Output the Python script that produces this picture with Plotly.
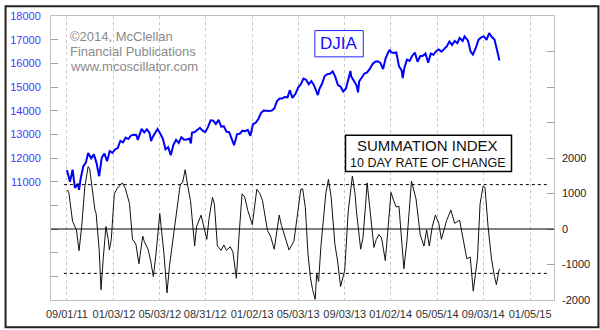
import plotly.graph_objects as go

# ---------------- data ----------------
djia_dates = [
    "2011-09-01","2011-09-09","2011-09-16","2011-09-22","2011-09-30","2011-10-03","2011-10-07","2011-10-14",
    "2011-10-21","2011-10-27","2011-11-04","2011-11-11","2011-11-18","2011-11-25","2011-12-02","2011-12-09",
    "2011-12-16","2011-12-23","2011-12-30","2012-01-06","2012-01-13","2012-01-20","2012-01-27","2012-02-03",
    "2012-02-10","2012-02-17","2012-02-24","2012-03-02","2012-03-06","2012-03-09","2012-03-16","2012-03-23",
    "2012-03-30","2012-04-06","2012-04-10","2012-04-13","2012-04-20","2012-04-27","2012-05-04","2012-05-11",
    "2012-05-18","2012-05-25","2012-06-01","2012-06-08","2012-06-15","2012-06-22","2012-06-29","2012-07-06",
    "2012-07-13","2012-07-20","2012-07-24","2012-07-27","2012-08-03","2012-08-10","2012-08-17","2012-08-24",
    "2012-08-31","2012-09-07","2012-09-14","2012-09-21","2012-09-28","2012-10-05","2012-10-12","2012-10-19",
    "2012-10-26","2012-11-02","2012-11-09","2012-11-15","2012-11-23","2012-11-30","2012-12-07","2012-12-14",
    "2012-12-21","2012-12-28","2013-01-04","2013-01-11","2013-01-18","2013-01-25","2013-02-01","2013-02-08",
    "2013-02-15","2013-02-22","2013-03-01","2013-03-08","2013-03-15","2013-03-22","2013-03-28","2013-04-05",
    "2013-04-11","2013-04-18","2013-04-26","2013-05-03","2013-05-10","2013-05-17","2013-05-24","2013-05-31",
    "2013-06-07","2013-06-14","2013-06-21","2013-06-24","2013-06-28","2013-07-05","2013-07-12","2013-07-19",
    "2013-07-26","2013-08-02","2013-08-09","2013-08-16","2013-08-23","2013-08-30","2013-09-06","2013-09-13",
    "2013-09-18","2013-09-20","2013-09-27","2013-10-04","2013-10-08","2013-10-11","2013-10-18","2013-10-25",
    "2013-11-01","2013-11-08","2013-11-15","2013-11-22","2013-11-29","2013-12-06","2013-12-13","2013-12-20",
    "2013-12-27","2013-12-31","2014-01-03","2014-01-10","2014-01-17","2014-01-24","2014-01-31","2014-02-03",
    "2014-02-07","2014-02-14","2014-02-21","2014-02-28","2014-03-07","2014-03-14","2014-03-21","2014-03-28",
    "2014-04-04","2014-04-11","2014-04-18","2014-04-25","2014-05-02","2014-05-09","2014-05-16","2014-05-23",
    "2014-05-30","2014-06-06","2014-06-13","2014-06-20","2014-06-27","2014-07-03","2014-07-11","2014-07-16",
    "2014-07-18","2014-07-25","2014-08-01","2014-08-07","2014-08-15","2014-08-22","2014-08-29","2014-09-05",
    "2014-09-12","2014-09-19","2014-09-26","2014-10-03","2014-10-10","2014-10-13","2014-10-16",
]
djia_values = [
    11494,10992,11509,10733,10913,10655,11103,11644,
    11809,12209,11983,12153,11796,11231,12019,12184,
    11867,12294,12218,12360,12422,12720,12660,12862,
    12801,12950,12983,12977,12759,12922,13233,13081,
    13212,13060,12716,12850,13029,13228,13038,12821,
    12369,12455,12119,12554,12767,12640,12880,12772,
    12777,12822,12617,13075,13096,13207,13275,13158,
    13090,13306,13593,13579,13437,13610,13328,13343,
    13107,13093,12815,12542,13010,13025,13155,13135,
    13190,12938,13435,13488,13650,13896,14010,13993,
    13982,14001,14090,14397,14515,14512,14579,14565,
    14865,14537,14712,14974,15118,15354,15303,15116,
    15248,15070,14800,14660,14910,15136,15464,15544,
    15559,15658,15426,15081,15010,14810,14923,15376,
    15676,15452,15258,15073,14776,15237,15400,15570,
    15615,15762,15962,16065,16086,16020,15755,16221,
    16479,16577,16470,16437,16458,15879,15699,15373,
    15794,16154,16104,16322,16453,16066,16303,16323,
    16413,16027,16409,16361,16513,16584,16492,16607,
    16717,16924,16776,16948,16852,17068,16944,17138,
    17100,16961,16493,16368,16663,17001,17098,17138,
    16988,17280,17113,17009,16544,16321,16117,
]

osc_dates = [
    "2011-09-02","2011-09-06","2011-09-13","2011-09-16","2011-09-26","2011-10-03","2011-10-10","2011-10-18",
    "2011-10-27","2011-10-31","2011-11-14","2011-11-17","2011-11-25","2011-11-30","2011-12-06","2011-12-13",
    "2011-12-19","2011-12-22","2011-12-27","2012-01-04","2012-01-12","2012-01-25","2012-02-02","2012-02-13",
    "2012-02-21","2012-03-01","2012-03-09","2012-03-19","2012-03-23","2012-04-02","2012-04-09","2012-04-16",
    "2012-04-23","2012-05-03","2012-05-14","2012-05-22","2012-05-29","2012-06-13","2012-06-26","2012-07-02",
    "2012-07-09","2012-07-16","2012-07-23","2012-08-03","2012-08-08","2012-08-20","2012-08-27","2012-09-04",
    "2012-09-10","2012-09-19","2012-09-24","2012-10-02","2012-10-12","2012-10-19","2012-10-26","2012-11-05",
    "2012-11-12","2012-11-21","2012-11-28","2012-12-06","2012-12-13","2012-12-21","2013-01-02","2013-01-14",
    "2013-01-22","2013-01-29","2013-02-11","2013-02-19","2013-03-01","2013-03-14","2013-03-20","2013-03-28",
    "2013-04-09","2013-04-22","2013-04-29","2013-05-10","2013-05-15","2013-05-22","2013-05-29","2013-06-04",
    "2013-06-10","2013-06-17","2013-06-21","2013-06-26","2013-07-02","2013-07-09","2013-07-15","2013-07-22",
    "2013-07-29","2013-08-08","2013-08-15","2013-08-23","2013-09-03","2013-09-12","2013-09-23","2013-09-30",
    "2013-10-04","2013-10-15","2013-10-21","2013-10-28","2013-11-01","2013-11-07","2013-11-12","2013-11-19",
    "2013-11-25","2013-12-02","2013-12-09","2013-12-19","2013-12-26","2014-01-03","2014-01-10","2014-01-17",
    "2014-01-24","2014-01-31","2014-02-06","2014-02-14","2014-02-26","2014-03-10","2014-03-21","2014-03-31",
    "2014-04-07","2014-04-14","2014-04-22","2014-04-30","2014-05-09","2014-05-16","2014-05-30","2014-06-10",
    "2014-06-20","2014-07-03","2014-07-11","2014-07-22","2014-07-31","2014-08-08","2014-08-19","2014-08-26",
    "2014-09-03","2014-09-08","2014-09-16","2014-09-25","2014-10-03","2014-10-08","2014-10-15","2014-10-17",
]
osc_values = [
    1100,1030,450,210,-20,-610,70,1170,
    1760,1700,530,440,-570,-1710,-800,70,
    -290,-590,-300,990,1150,1300,1150,720,
    -290,-430,-980,-200,-350,-570,-900,-1340,
    -700,440,-700,-1800,-1000,250,1260,1300,
    1670,1200,800,-480,70,390,100,-290,
    300,890,700,-480,-600,-450,-600,-500,
    -650,-1390,-200,990,900,530,120,1120,
    1000,800,-40,-200,-570,390,100,-200,
    -590,-340,200,1120,1130,600,-700,-1340,
    -1700,-1980,-1250,-1480,-500,300,1000,1400,
    900,-430,-900,-1620,-1160,480,1490,1000,
    480,-570,-250,700,1300,700,120,-520,
    -300,-160,-250,-890,0,1030,800,620,
    640,-300,-1120,-340,1350,850,-160,-480,
    -20,-480,70,390,160,-290,250,530,
    160,250,-200,-840,-790,-1750,-840,710,
    1210,1170,70,-840,-1340,-1570,-1160,-1120,
]

band_levels = [1250, -1250]
x_tick_dates = ["2011-09-01","2012-01-03","2012-05-03","2012-08-31","2013-01-02","2013-05-03",
                "2013-09-03","2014-01-02","2014-05-05","2014-09-03","2015-01-05"]
x_tick_labels = ["09/01/11","01/03/12","05/03/12","08/31/12","01/02/13","05/03/13",
                 "09/03/13","01/02/14","05/05/14","09/03/14","01/05/15"]
left_ticks = list(range(6000, 18001, 1000))
left_labels = [str(v) if v >= 11000 else "" for v in left_ticks]
right_ticks = list(range(-2000, 6001, 1000))
right_labels = [str(v) if v <= 2000 else "" for v in right_ticks]

# ---------------- layout constants ----------------
W, H = 600, 330
ML, MR, MT, MB = 46, 45, 10, 28
PW, PH = W - ML - MR, H - MT - MB
FONT = "Arial, Liberation Sans, sans-serif"

def px(x):
    return (x - ML) / PW

def py(y):
    return (H - MB - y) / PH

fig = go.Figure()
fig.add_trace(go.Scatter(x=djia_dates, y=djia_values, mode="lines",
                         line=dict(color="#0000ff", width=2), yaxis="y", name="DJIA"))
fig.add_trace(go.Scatter(x=osc_dates, y=osc_values, mode="lines",
                         line=dict(color="#111111", width=1), yaxis="y2", name="Summation ROC"))

shapes = []
# zero line
shapes.append(dict(type="line", xref="paper", yref="y2", x0=0, x1=1, y0=0, y1=0,
                   line=dict(color="#000000", width=1)))
for lv in band_levels:
    shapes.append(dict(type="line", xref="paper", yref="y2", x0=px(59), x1=px(549), y0=lv, y1=lv,
                       line=dict(color="#000000", width=1, dash="3px,3px")))
# DJIA box
shapes.append(dict(type="rect", xref="paper", yref="paper", x0=px(313), x1=px(362), y0=py(52), y1=py(25),
                   line=dict(color="#2020ff", width=1), fillcolor="rgba(255,255,255,0)"))
# Summation box
shapes.append(dict(type="rect", xref="paper", yref="paper", x0=px(344), x1=px(512), y0=py(170), y1=py(132.5),
                   line=dict(color="#000000", width=1.5), fillcolor="#ffffff"))
# outer frame
shapes.append(dict(type="rect", xref="paper", yref="paper", x0=px(0), x1=px(W), y0=py(H), y1=py(0),
                   line=dict(color="#222222", width=2), fillcolor="rgba(0,0,0,0)"))

annotations = [
    dict(xref="paper", yref="paper", x=px(63), y=py(31), text="©2014, McClellan", showarrow=False,
         xanchor="left", yanchor="middle", font=dict(family=FONT, size=13, color="#8a8a8a")),
    dict(xref="paper", yref="paper", x=px(63), y=py(46), text="Financial Publications", showarrow=False,
         xanchor="left", yanchor="middle", font=dict(family=FONT, size=13, color="#8a8a8a")),
    dict(xref="paper", yref="paper", x=px(63), y=py(61.5), text="www.mcoscillator.com", showarrow=False,
         xanchor="left", yanchor="middle", font=dict(family=FONT, size=13, color="#8a8a8a")),
    dict(xref="paper", yref="paper", x=px(337.5), y=py(38.5), text="DJIA", showarrow=False,
         xanchor="center", yanchor="middle", font=dict(family=FONT, size=17, color="#1010ff")),
    dict(xref="paper", yref="paper", x=px(427), y=py(143.5), text="SUMMATION INDEX", showarrow=False,
         xanchor="center", yanchor="middle", font=dict(family=FONT, size=15, color="#111111")),
    dict(xref="paper", yref="paper", x=px(427), y=py(161.5), text="10 DAY RATE OF CHANGE", showarrow=False,
         xanchor="center", yanchor="middle", font=dict(family=FONT, size=12.5, color="#111111")),
]

fig.update_layout(
    width=W, height=H,
    margin=dict(l=ML, r=MR, t=MT, b=MB, pad=0),
    paper_bgcolor="#ffffff", plot_bgcolor="#ffffff",
    showlegend=False,
    shapes=shapes, annotations=annotations,
    xaxis=dict(type="date", range=["2011-07-21", "2015-03-09"],
               tickvals=x_tick_dates, ticktext=x_tick_labels,
               showgrid=True, gridcolor="#c8c8c8", griddash="dot", gridwidth=1,
               showline=True, linecolor="#c0c0c0", linewidth=1, mirror=True,
               ticks="outside", ticklen=4, tickcolor="rgba(0,0,0,0)",
               tickfont=dict(family=FONT, size=11, color="#333333"),
               zeroline=False),
    yaxis=dict(range=[6000, 18000], tickvals=left_ticks, ticktext=left_labels,
               showgrid=False, zeroline=False,
               showline=True, linecolor="#c0c0c0", linewidth=1, mirror=True,
               ticks="inside", ticklen=7, tickcolor="#a0a0a0",
               ticklabelstandoff=7,
               tickfont=dict(family=FONT, size=11, color="#3c3cff")),
    yaxis2=dict(range=[-2000, 6000], tickvals=right_ticks, ticktext=right_labels,
                overlaying="y", side="right",
                showgrid=False, zeroline=False, showline=False,
                ticks="inside", ticklen=7, tickcolor="#a0a0a0",
                ticklabelstandoff=7,
                tickfont=dict(family=FONT, size=11, color="#222222")),
)

fig.write_html("out.html")
